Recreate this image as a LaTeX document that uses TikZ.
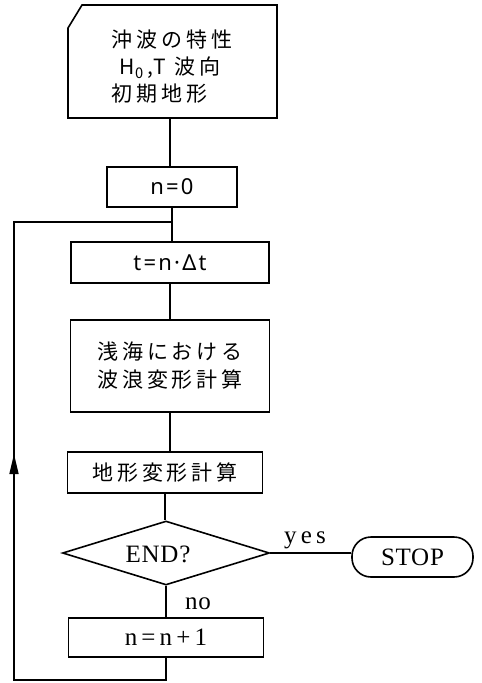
\documentclass[tikz,border=0pt]{standalone}
\usepackage{fontspec}
\newfontfamily\jp[LetterSpace=18]{Noto Sans CJK JP}
\newfontfamily\jpl[LetterSpace=12]{Noto Sans CJK JP}
\newfontfamily\nsl[LetterSpace=10]{Noto Sans}
\newfontfamily\srf[LetterSpace=3]{Liberation Serif}
\usetikzlibrary{shapes.geometric,arrows.meta}
\begin{document}
\begin{tikzpicture}[x=1pt,y=-1pt,
  line width=1.6pt,
  box/.style={draw,rectangle,inner sep=0pt,line width=1.6pt},
  jtext/.style={font=\jp\fontsize{21}{28}\selectfont,align=center},
  ltext/.style={font=\nsl\fontsize{22}{26}\selectfont},
  stext/.style={font=\srf\fontsize{25}{28}\selectfont}]
\useasboundingbox (0,0) rectangle (482,683);
% input (card) shape
\draw (82,5) -- (277,5) -- (277,118) -- (68,118) -- (68,28) -- cycle;
\node[jtext,align=left,anchor=center] (inp) at (172,67)
  {沖波の特性\\[-1pt] \hspace{8pt}{\jpl H\textsubscript{0}\,,T} 波向\\[-1pt]初期地形};
\coordinate (inpb) at (170,118);
\node[box,ltext,minimum width=130pt,minimum height=40pt] (n0) at (172,187) {n=0};
\node[box,ltext,minimum width=198pt,minimum height=41pt] (tb) at (170,262.5) {t=n·Δt};
\node[box,jtext,minimum width=199pt,minimum height=92pt] (wave) at (170,366) {浅海における\\波浪変形計算};
\node[box,jtext,minimum width=195pt,minimum height=41pt] (topo) at (165,472.5) {地形変形計算};
\node[draw,diamond,shape aspect=3.2,inner sep=0pt,minimum width=207pt,minimum height=64pt] (dec) at (166,553) {};
\node[stext] (endt) at (158,554) {END?};
\node[draw,rectangle,rounded corners=19pt,minimum width=121pt,minimum height=40pt,inner sep=0pt,stext] (stop) at (412.5,557) {STOP};
\node[stext,anchor=base west] (yes) at (280,543) {y\,e\,s};
\node[stext,anchor=base west] (no) at (181,609) {no};
\node[box,stext,minimum width=195pt,minimum height=39pt] (n1) at (166,637.5) {n\,=\,n\,+\,1};
% connectors
\draw (inpb) -- (inpb |- n0.north);
\draw (n0.south) -- (n0.south |- tb.north);
\draw (tb.south) -- (tb.south |- wave.north);
\draw (wave.south) -- (wave.south |- topo.north);
\draw (topo.south) -- (topo.south |- dec.north);
\draw (dec.south) -- (dec.south |- n1.north);
\draw (dec.east) -- (dec.east -| stop.west);
% loop
\coordinate (lb) at (166,680);
\coordinate (ll) at (14,680);
\coordinate (lt) at (14,222);
\coordinate (lj) at (172,222);
\draw (n1.south) -- (lb) -- (ll) -- (lt) -- (lj);
\coordinate (ah) at (14,475);
\coordinate (at) at (14,454);
\draw[-{Triangle[length=20pt,width=9pt]}] (ah) -- (at);
\end{tikzpicture}
\end{document}
